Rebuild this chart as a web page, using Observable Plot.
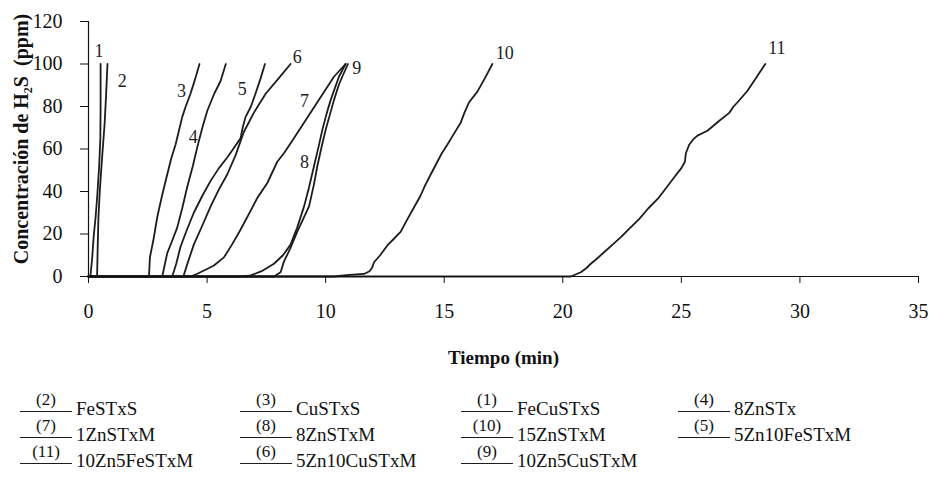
<!DOCTYPE html>
<html>
<head>
<meta charset="utf-8">
<script src="https://cdn.jsdelivr.net/npm/d3@7"></script>
<script src="https://cdn.jsdelivr.net/npm/@observablehq/plot@0.6"></script>
<style>
  body { margin: 0; background: #fff; }
  #wrap { position: relative; width: 930px; height: 493px; overflow: hidden;
          font-family: "Liberation Serif", "Times New Roman", serif; color: #111; }
  #chart svg { display: block; }
  #chart g[aria-label="x-axis label"] { font-size: 19px; font-weight: 700; }
  .item { position: absolute; width: 220px; height: 40px; }
  .item .sw { position: absolute; left: 0; top: 22px; width: 52px; height: 0; border-top: 1.6px solid #1c1c1c; }
  .item .code { position: absolute; left: 0; top: 2px; width: 52px; text-align: center; font-size: 17px; line-height: 17px; }
  .item .name { position: absolute; left: 56px; top: 10px; font-size: 19px; line-height: 19px; white-space: nowrap; }
</style>
</head>
<body>
<div id="wrap">
  <div id="chart"></div>
  <div id="legend"></div>
</div>
<script>
// H2S breakthrough curves: [time (min), concentration (ppm)]
const s1 = [[0,0],[0.08,0],[0.15,8],[0.22,19],[0.3,28],[0.37,38],[0.45,52],[0.5,65],[0.51,80],[0.51,100]];
const s2 = [[0,0],[0.36,0],[0.37,4],[0.39,15],[0.42,28],[0.48,41],[0.58,57],[0.68,72],[0.74,85],[0.8,100]];
const s3 = [[0,0],[2.55,0],[2.59,9],[2.75,18],[2.9,28],[3.1,38],[3.32,48],[3.5,56],[3.67,62],[3.8,68],[3.95,75],[4.1,80],[4.3,86],[4.5,93],[4.68,100]];
const s4 = [[0,0],[3.11,0],[3.32,11],[3.5,16],[3.74,23],[3.95,32],[4.16,42],[4.4,52],[4.59,61],[4.8,70],[5.01,78],[5.3,86],[5.57,92],[5.68,96],[5.79,100]];
const s5 = [[0,0],[3.53,0],[3.7,6],[3.88,14],[4.15,22],[4.44,30],[4.8,38],[5.15,45],[5.5,51],[5.85,56],[6.1,60],[6.41,65],[6.5,70],[6.62,75],[6.85,80],[7.04,86],[7.25,93],[7.44,100]];
const s6 = [[0,0],[4.0,0],[4.2,7],[4.44,15],[4.8,24],[5.15,33],[5.5,41],[5.85,48],[6.2,57],[6.55,68],[6.97,77],[7.47,86],[8.0,93],[8.52,100]];
const s7 = [[0,0],[4.3,0],[4.59,1.3],[5.0,3.5],[5.29,5.2],[5.71,9],[6.05,15],[6.41,22],[6.84,31],[7.12,37],[7.54,44],[7.96,54],[8.24,58],[8.6,64],[8.95,70],[9.3,76],[9.65,82],[10.0,88],[10.35,94],[10.84,100]];
const s8 = [[0,0],[6.5,0],[6.84,0.5],[7.3,2.5],[7.82,6],[8.2,10],[8.52,15],[8.8,23],[9.09,33],[9.3,42],[9.51,52],[9.7,61],[9.86,69],[10.05,77],[10.21,83],[10.4,89],[10.56,94],[10.84,100]];
const s9 = [[0,0],[7.82,0],[8.1,2],[8.24,7],[8.5,13],[8.8,21],[9.05,27],[9.3,33],[9.5,43],[9.65,52],[9.85,62],[10.0,69],[10.2,77],[10.35,83],[10.55,90],[10.7,94],[10.94,100]];
const s10 = [[0,0],[10.35,0],[11.0,0.8],[11.62,1.2],[11.85,2.5],[11.97,4.4],[12.04,6.7],[12.3,10],[12.6,14.6],[12.9,18],[13.16,21],[13.45,27],[13.7,32],[14.0,38],[14.2,43],[14.43,48],[14.71,54],[14.9,58],[15.13,62],[15.4,67],[15.7,72.5],[15.85,77],[16.05,82],[16.4,87],[16.7,93],[17.03,100]];
const s11 = [[0,0],[20.34,0],[20.76,2],[21.0,4],[21.18,6],[21.4,8],[21.74,11.4],[22.1,15],[22.45,18.5],[22.85,23],[23.22,27],[23.6,32],[24.0,36.5],[24.35,41.5],[24.7,46.7],[25.0,51],[25.15,54],[25.19,58],[25.33,62],[25.5,64.5],[25.68,66.3],[26.1,68.6],[26.6,73.3],[27.02,77],[27.2,80],[27.37,82],[27.79,87.4],[28.21,94.5],[28.54,100]];

const seriesIds = ["1","2","3","4","5","6","7","8","9","10","11"];
const seriesData = [s1, s2, s3, s4, s5, s6, s7, s8, s9, s10, s11];

// Curve number tags placed next to the end of each curve
const tagText = ["1","2","3","4","5","6","7","8","9","10","11"];
const tagT = [0.44, 1.42, 3.92, 4.42, 6.48, 8.8, 9.11, 9.11, 11.31, 17.55, 29.03];
const tagC = [106.2, 92.1, 87.4, 65.5, 88.2, 103.1, 82.7, 53.7, 97.8, 105, 107.2];

const xTicks = [0, 5, 10, 15, 20, 25, 30, 35];
const yTicks = [0, 20, 40, 60, 80, 100, 120];
const yTitle = "Concentración de H\u2082S\u00a0 (ppm)";

// Legend, row by row
const legendCodes = ["2","3","1","4","7","8","10","5","11","6","9"];
const legendNames = ["FeSTxS","CuSTxS","FeCuSTxS","8ZnSTx","1ZnSTxM","8ZnSTxM","15ZnSTxM","5Zn10FeSTxM","10Zn5FeSTxM","5Zn10CuSTxM","10Zn5CuSTxM"];

const rows = seriesData.flatMap((s, i) => s.map(([t, c]) => ({t, c, id: seriesIds[i]})));
const tags = tagText.map((text, i) => ({text, t: tagT[i], c: tagC[i]}));

const font = '"Liberation Serif", "Times New Roman", serif';

const chart = Plot.plot({
  width: 930,
  height: 380,
  marginLeft: 88,
  marginRight: 12,
  marginTop: 21,
  marginBottom: 104,
  style: {fontFamily: font, fontSize: "20px", color: "#111", background: "#fff"},
  x: {domain: [0, 35]},
  y: {domain: [0, 120]},
  marks: [
    Plot.axisX({ticks: xTicks, tickSize: 7, tickPadding: 20, fontSize: 20,
      label: "Tiempo (min)", labelAnchor: "center", labelOffset: 87, labelArrow: false}),
    Plot.axisY({ticks: yTicks, tickSize: 8, tickPadding: 18, fontSize: 20, label: null}),
    // rotated y-axis title, centred a little above the middle of the frame
    Plot.text([yTitle], {frameAnchor: "left", textAnchor: "middle", rotate: -90, lineAnchor: "top",
      dx: -75, dy: -10, fontSize: 20, fontWeight: "bold", fill: "#111"}),
    Plot.ruleX([0], {stroke: "#111", strokeWidth: 1.2}),
    Plot.line(rows, {x: "t", y: "c", z: "id", stroke: "#1c1c1c", strokeWidth: 1.8, strokeLinejoin: "round"}),
    Plot.ruleY([0], {stroke: "#111", strokeWidth: 1.2}),
    Plot.text(tags, {x: "t", y: "c", text: "text", fontSize: 18, fill: "#222"})
  ]
});
document.getElementById("chart").appendChild(chart);

// Legend: four columns, three rows
const colX = [20, 240, 461, 678];
const rowLine = [411, 437, 463];
const legend = d3.select("#legend");
legendCodes.forEach((code, i) => {
  const col = i % 4, row = Math.floor(i / 4);
  const item = legend.append("div").attr("class", "item")
    .style("left", colX[col] + "px")
    .style("top", (rowLine[row] - 22) + "px");
  item.append("span").attr("class", "sw");
  item.append("span").attr("class", "code").text("(" + code + ")");
  item.append("span").attr("class", "name").text(legendNames[i]);
});
</script>
</body>
</html>
